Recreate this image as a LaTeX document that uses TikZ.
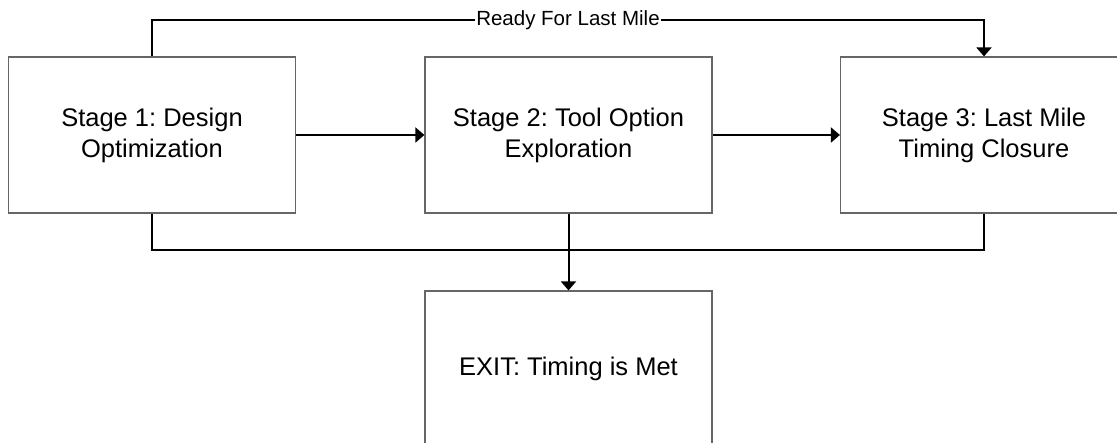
\documentclass[tikz,border=0pt]{standalone}
\usepackage{fontspec}
\setmainfont{Liberation Sans}
\usetikzlibrary{arrows.meta}
\frenchspacing
\tikzset{
  stage/.style={draw=black!60, line width=1.2pt, minimum width=287pt, minimum height=156pt,
    inner sep=0pt, align=center, font=\fontsize{25.5}{31}\selectfont},
  flow/.style={line width=2pt},
  flowarrow/.style={flow, -{Triangle[width=15pt,length=9pt]}},
  tag/.style={fill=white, inner sep=1pt, font=\fontsize{20.5}{22}\selectfont}
}
\begin{document}
\begin{tikzpicture}[x=1pt, y=-1pt]
  \useasboundingbox (0,0) rectangle (1117,443);
  \clip (0,0) rectangle (1117,443);

  % Stages
  \node[stage] (S1) at (152,135)   {Stage 1: Design\\Optimization};
  \node[stage] (S2) at (568.5,135) {Stage 2: Tool Option\\Exploration};
  \node[stage] (S3) at (984,135)   {Stage 3: Last Mile\\Timing Closure};
  \node[stage] (EX) at (568.5,369) {EXIT: Timing is Met};

  % Main flow
  \draw[flowarrow] (S1) -- (S2);
  \draw[flowarrow] (S2) -- (S3);

  % Shortcut over the top
  \draw[flowarrow] (S1.north) -- ++(0,-36)
    -| node[tag, pos=0.25] {Ready For Last Mile} (S3.north);

  % Exit bus
  \draw[flow] (S1.south) -- ++(0,36) -| (S3.south);
  \draw[flowarrow] (S2.south) -- (EX.north);
\end{tikzpicture}
\end{document}
